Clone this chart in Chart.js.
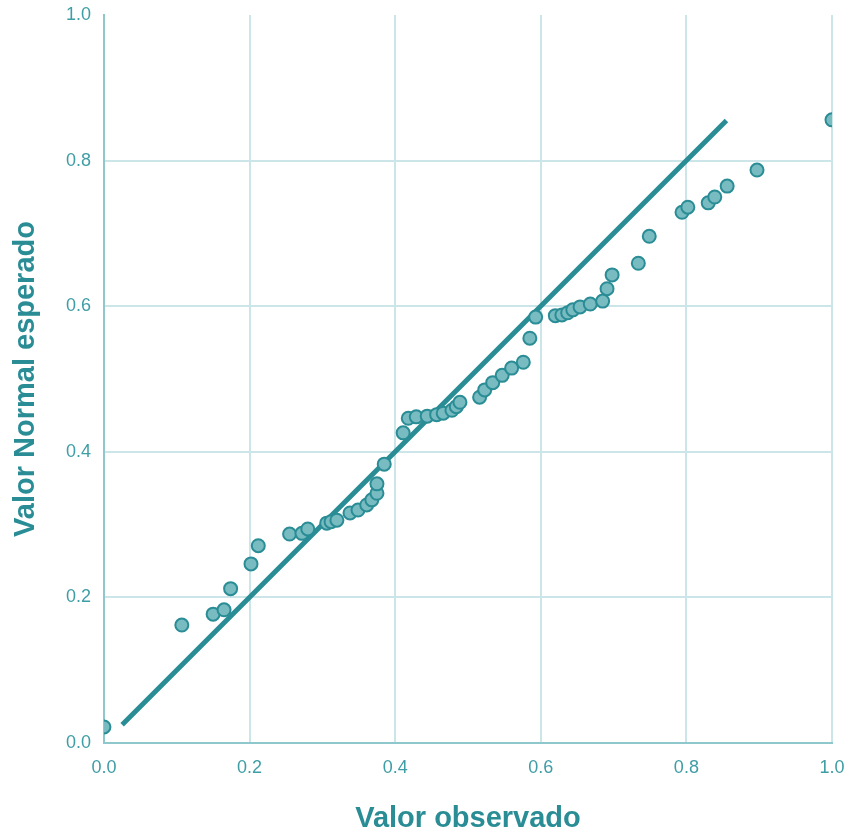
<!DOCTYPE html>
<html>
<head>
<meta charset="utf-8">
<script src="https://cdn.jsdelivr.net/npm/chart.js@4"></script>
<style>
  html, body { margin: 0; padding: 0; background: #fff; }
  #wrap { width: 850px; height: 833px; }
</style>
</head>
<body>
<div id="wrap"><canvas id="qq"></canvas></div>
<script>
const observado = [0.000, 0.107, 0.150, 0.165, 0.174, 0.202, 0.212, 0.255, 0.272, 0.280,
    0.306, 0.312, 0.320, 0.338, 0.349, 0.361, 0.368, 0.375, 0.375, 0.385,
    0.411, 0.418, 0.429, 0.444, 0.457, 0.466, 0.478, 0.484, 0.489, 0.516,
    0.523, 0.534, 0.547, 0.560, 0.576, 0.585, 0.593, 0.620, 0.629, 0.637,
    0.644, 0.654, 0.668, 0.685, 0.691, 0.698, 0.734, 0.749, 0.794, 0.802,
    0.830, 0.839, 0.856, 0.897, 1.000];
const esperado = [0.022, 0.162, 0.177, 0.183, 0.212, 0.246, 0.271, 0.287, 0.288, 0.294,
    0.302, 0.304, 0.306, 0.316, 0.320, 0.327, 0.334, 0.343, 0.356, 0.383,
    0.426, 0.446, 0.448, 0.449, 0.451, 0.453, 0.457, 0.462, 0.468, 0.475,
    0.485, 0.495, 0.505, 0.515, 0.523, 0.556, 0.585, 0.587, 0.588, 0.591,
    0.595, 0.599, 0.603, 0.607, 0.624, 0.643, 0.659, 0.696, 0.729, 0.736,
    0.742, 0.750, 0.765, 0.787, 0.856];
const lineaX = [0.025, 0.855];
const lineaY = [0.025, 0.855];
const ticks = [0.0, 0.2, 0.4, 0.6, 0.8, 1.0];

const teal = "#2a8d96";
const tickColor = "#3f9ea5";
const gridColor = "#cbe5e8";

const puntos = observado.map((x, i) => ({ x: x, y: esperado[i] }));
const linea = lineaX.map((x, i) => ({ x: x, y: lineaY[i] }));

new Chart(document.getElementById("qq"), {
    type: "scatter",
    data: {
        datasets: [
            {
                type: "line",
                data: linea,
                borderColor: teal,
                borderWidth: 5,
                pointRadius: 0,
                fill: false,
                order: 2
            },
            {
                data: puntos,
                backgroundColor: "#78bbc1",
                borderColor: teal,
                borderWidth: 2,
                pointRadius: 6.5,
                clip: 0,
                order: 1
            }
        ]
    },
    options: {
        responsive: true,
        maintainAspectRatio: false,
        animation: false,
        layout: { padding: { top: 0, right: 0, bottom: 0, left: 10 } },
        plugins: { legend: { display: false }, tooltip: { enabled: false } },
        scales: {
            x: {
                type: "linear",
                min: 0, max: 1,
                afterBuildTicks: axis => { axis.ticks = ticks.map(v => ({ value: v })); },
                // margen a la derecha fijo
                afterFit: axis => { axis.paddingRight = 18; },
                grid: { color: gridColor, lineWidth: 2, drawTicks: false },
                border: { color: "#8ec8cd", width: 2 },
                ticks: {
                    color: tickColor,
                    padding: 16,
                    maxRotation: 0,
                    font: { family: "Liberation Sans", size: 18, lineHeight: 1 },
                    callback: v => v.toFixed(1)
                },
                title: {
                    display: true,
                    text: "Valor observado",
                    color: teal,
                    padding: { top: 11, bottom: 0 },
                    font: { family: "Liberation Sans", size: 29, weight: "bold", lineHeight: 1 }
                }
            },
            y: {
                type: "linear",
                min: 0, max: 1,
                afterBuildTicks: axis => { axis.ticks = ticks.map(v => ({ value: v })); },
                afterFit: axis => { axis.paddingTop = 15; },
                grid: {
                    color: ctx => (ctx.tick && ctx.tick.value === 1 ? "rgba(0,0,0,0)" : gridColor),
                    lineWidth: 2,
                    drawTicks: false
                },
                border: { color: "#8ec8cd", width: 2 },
                ticks: {
                    color: tickColor,
                    padding: 13,
                    font: { family: "Liberation Sans", size: 18, lineHeight: 1 },
                    callback: v => v.toFixed(1)
                },
                title: {
                    display: true,
                    text: "Valor Normal esperado",
                    color: teal,
                    padding: { top: 0, bottom: 11 },
                    font: { family: "Liberation Sans", size: 29, weight: "bold", lineHeight: 1.1 }
                }
            }
        }
    }
});
</script>
</body>
</html>
